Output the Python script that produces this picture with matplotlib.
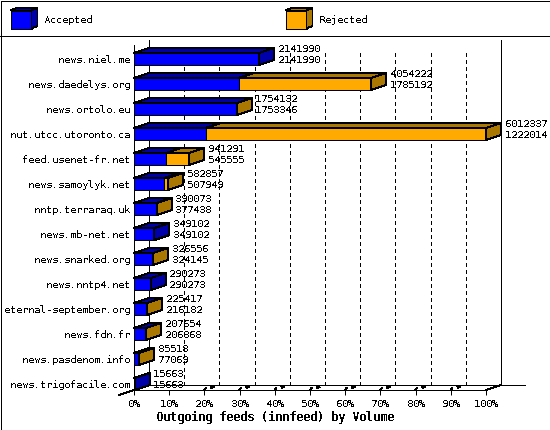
import matplotlib
matplotlib.use('Agg')
import matplotlib.pyplot as plt

plt.rcParams['font.family'] = ['DejaVu Sans Mono']
plt.rcParams['text.antialiased'] = False
plt.rcParams['text.hinting'] = 'native'
plt.rcParams['text.hinting_factor'] = 1

# Data
hosts = ['news.niel.me', 'news.daedelys.org', 'news.ortolo.eu', 'nut.utcc.utoronto.ca',
         'feed.usenet-fr.net', 'news.samoylyk.net', 'nntp.terraraq.uk', 'news.mb-net.net',
         'news.snarked.org', 'news.nntp4.net', 'eternal-september.org', 'news.fdn.fr',
         'news.pasdenom.info', 'news.trigofacile.com']
offered = [2141990, 4054222, 1754132, 6012337, 941291, 582857, 390073,
           349102, 326556, 290273, 225417, 207654, 85518, 15663]
accepted = [2141990, 1785192, 1753346, 1222014, 545555, 507949, 377438,
            349102, 324145, 290273, 216182, 206868, 77069, 15663]
pct_ticks = [0, 10, 20, 30, 40, 50, 60, 70, 80, 90, 100]

BLUE, DBLUE = '#0000ff', '#0000aa'
ORANGE, DORANGE = '#ffaa00', '#aa7700'
W, H = 550, 430
LW = 0.72  # one pixel at dpi 100
FS = 7.3

fig = plt.figure(figsize=(W / 100, H / 100), dpi=100)

# frame + legend, in pixel coordinates
bg = fig.add_axes([0, 0, 1, 1])
bg.set_xlim(0, W)
bg.set_ylim(H, 0)
bg.axis('off')
bg.plot([0.5, W - 0.5, W - 0.5, 0.5, 0.5], [0.5, 0.5, H - 0.5, H - 0.5, 0.5], color='k', lw=LW, aa=False)
bg.plot([0, W], [35.5, 35.5], color='k', lw=LW, aa=False)


def cube(x, y, w, h, dx, dy, front, dark):
    bg.fill([x, x + w, x + w, x], [y, y, y + h, y + h], fc=front, ec='k', lw=LW, aa=False)
    bg.fill([x, x + dx, x + w + dx, x + w], [y, y + dy, y + dy, y], fc=dark, ec='k', lw=LW, aa=False)
    bg.fill([x + w, x + w + dx, x + w + dx, x + w], [y, y + dy, y + h + dy, y + h], fc=dark, ec='k', lw=LW, aa=False)


cube(10.5, 10.5, 21, 18, 6, -2.5, BLUE, DBLUE)
cube(285.5, 10.5, 21, 18, 6, -2.5, ORANGE, DORANGE)
bg.text(44, 20, 'Accepted', fontsize=FS, va='center', ha='left')
bg.text(319, 20, 'Rejected', fontsize=FS, va='center', ha='left')
bg.text(274.5, 417, 'Outgoing feeds (innfeed) by Volume', fontsize=8.4, fontweight='bold',
        va='center', ha='center')

# main plot: x is percent of the biggest feed, y is the row number
left, right, top, bottom = 134, 486, 45, 390
ax = fig.add_axes([left / W, 1 - bottom / H, (right - left) / W, (bottom - top) / H])
ax.patch.set_alpha(0)
ax.set_xlim(0, 100)
ax.set_ylim((bottom - 59) / 25, (top - 59) / 25)
floor = ax.get_ylim()[0]

depth_x = 15 / 3.52
depth_y = 5 / 25
half = 6 / 25
wall_top = (40 - 59) / 25
grid_top = (50 - 59) / 25
back_floor = floor - depth_y

for s in ['top', 'right']:
    ax.spines[s].set_visible(False)
for s in ['left', 'bottom']:
    ax.spines[s].set_linewidth(LW)
    ax.spines[s].set_antialiased(False)

ax.set_xticks(pct_ticks)
ax.set_xticklabels(['%d%%' % p for p in pct_ticks], fontsize=FS)
ax.set_yticks(range(len(hosts)))
ax.set_yticklabels(hosts, fontsize=FS)
ax.tick_params(axis='x', length=3.6, width=LW, pad=3)
ax.tick_params(axis='y', length=0, pad=3)

line = dict(color='k', lw=LW, clip_on=False, antialiased=False)

# back walls and floor
ax.plot([depth_x, depth_x], [wall_top, back_floor], zorder=1, **line)
ax.plot([100 + depth_x] * 2, [wall_top, back_floor], zorder=1, **line)
ax.plot([depth_x, 111.1], [back_floor, back_floor], zorder=1, **line)
ax.plot([-4.26, depth_x], [floor + depth_y, back_floor], zorder=1, **line)
ax.plot([100, 100 + depth_x], [floor, back_floor], zorder=1, **line)

# dashed grid on the back wall, broken marks across the floor
for p in pct_ticks[1:-1]:
    ax.plot([p + depth_x] * 2, [back_floor, grid_top], linestyle=(0, (4, 4)), zorder=1, **line)
for p in pct_ticks[2:-1]:
    ax.plot([p, p + 0.4], [floor, floor - 0.08], zorder=1, **line)
    ax.plot([p + 2.1, p + 2.5], [floor - 0.12, floor - 0.13], color='k', lw=1.6, clip_on=False,
            antialiased=False, zorder=1)


def face(xs, ys, color):
    ax.fill(xs, ys, fc=color, ec='k', lw=LW, clip_on=False, antialiased=False, zorder=3)


biggest = max(offered)
for i, (tot, acc) in enumerate(zip(offered, accepted)):
    a = acc * 100.0 / biggest
    t = tot * 100.0 / biggest
    y0, y1 = i - half, i + half
    # front
    face([0, a, a, 0], [y0, y0, y1, y1], BLUE)
    # top
    face([0, depth_x, a + depth_x, a], [y0, y0 - depth_y, y0 - depth_y, y0], DBLUE)
    if t > a:
        face([a, t, t, a], [y0, y0, y1, y1], ORANGE)
        face([a, a + depth_x, t + depth_x, t], [y0, y0 - depth_y, y0 - depth_y, y0], DORANGE)
    # side
    face([t, t + depth_x, t + depth_x, t], [y0, y0 - depth_y, y1 - depth_y, y1],
         DORANGE if t > a else DBLUE)
    for val, off in ((tot, 9.5), (acc, -1.5)):
        ax.annotate(str(val), (t + depth_x, i), xytext=(3.5, off), textcoords='offset pixels',
                    fontsize=FS, ha='left', va='center', annotation_clip=False, zorder=4)

fig.savefig('out.png', dpi=100)
